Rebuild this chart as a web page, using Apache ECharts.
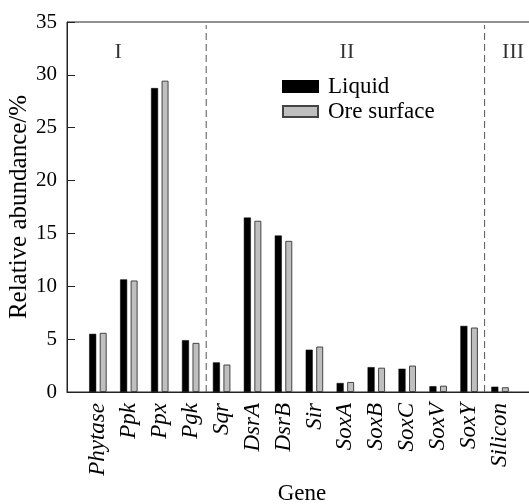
<!DOCTYPE html>
<html><head><meta charset="utf-8">
<script src="https://cdn.jsdelivr.net/npm/echarts@6/dist/echarts.min.js"></script>
<style>html,body{margin:0;padding:0;background:#fff}#c{width:529px;height:504px}</style>
</head><body><div id="c"></div>
<script>
const genes = ['Phytase','Ppk','Ppx','Pgk','Sqr','DsrA','DsrB','Sir','SoxA','SoxB','SoxC','SoxV','SoxY','Silicon'];
const liquid = [5.5,10.65,28.75,4.9,2.8,16.5,14.8,4.0,0.85,2.35,2.2,0.55,6.25,0.5];
const oreSurface = [5.6,10.55,29.45,4.65,2.6,16.2,14.3,4.3,0.95,2.3,2.5,0.6,6.1,0.45];
const yTicks = {min:0, max:35, interval:5};
const regionLabels = ['I','II','III'];
const regionX = [0.65, 8.05, 13.42];
const regionY = [32.1, 32.1, 32.1];
const dividerX = [3.5, 12.5];

const FONT = 'Liberation Serif';
const cats = [''].concat(genes, ['']);
const pad = a => [null].concat(a, [null]);

const chart = echarts.init(document.getElementById('c'), null, {renderer:'canvas'});
chart.setOption({
  animation:false,
  backgroundColor:'#fff',
  grid:{left:67, top:22, width:464, height:370, show:true, borderColor:'#222', borderWidth:1,
        containLabel:false, outerBoundsMode:'none'},
  legend:{
    data:['Liquid','Ore surface'], orient:'vertical', left:282, top:75, padding:0,
    itemWidth:35, itemHeight:11, itemGap:2, icon:'rect',
    textStyle:{fontFamily:FONT, fontSize:23, color:'#000', padding:[0,0,0,5]}
  },
  xAxis:[
    {type:'category', data:cats, boundaryGap:false,
     axisLine:{show:true, onZero:false, lineStyle:{color:'#222', width:1}}, axisTick:{show:false},
     axisLabel:{interval:0, rotate:90, margin:11, fontFamily:FONT, fontStyle:'italic', fontSize:23, color:'#000'},
     name:'Gene', nameLocation:'middle', nameGap:90, nameMoveOverlap:false,
     nameTextStyle:{fontFamily:FONT, fontSize:23, color:'#000', padding:[0,0,0,6]},
     splitLine:{show:false}},
    {type:'value', min:-1, max:14, show:false}
  ],
  yAxis:{
    type:'value', min:yTicks.min, max:yTicks.max, interval:yTicks.interval,
    axisLine:{show:true, onZero:false, lineStyle:{color:'#222', width:1}},
    axisTick:{show:true, inside:true, length:8, lineStyle:{color:'#222'}},
    axisLabel:{margin:10, fontFamily:FONT, fontSize:21, color:'#000'},
    splitLine:{show:false},
    name:'Relative abundance/%', nameLocation:'middle', nameGap:35, nameMoveOverlap:false,
    nameTextStyle:{fontFamily:FONT, fontSize:25, color:'#000'}
  },
  series:[
    {name:'Liquid', type:'bar', xAxisIndex:0, data:pad(liquid), barWidth:7, barGap:'50%',
     itemStyle:{color:'#000', borderColor:'#000', borderWidth:0.5}},
    {name:'Ore surface', type:'bar', xAxisIndex:0, data:pad(oreSurface), barWidth:7, barGap:'50%',
     itemStyle:{color:'#bfbfbf', borderColor:'#444', borderWidth:1}},
    ...dividerX.map(x => ({type:'line', xAxisIndex:1, silent:true, symbol:'none',
      data:[[x,0],[x,34.7]], lineStyle:{color:'#555', width:1, type:[7,4]}})),
    {type:'scatter', xAxisIndex:1, silent:true, symbolSize:0,
     data:regionLabels.map((t,i)=>[regionX[i], regionY[i], t]),
     label:{show:true, position:'inside', formatter:p=>p.value[2], fontFamily:FONT, fontSize:22, color:'#000'}}
  ]
});
</script></body></html>
